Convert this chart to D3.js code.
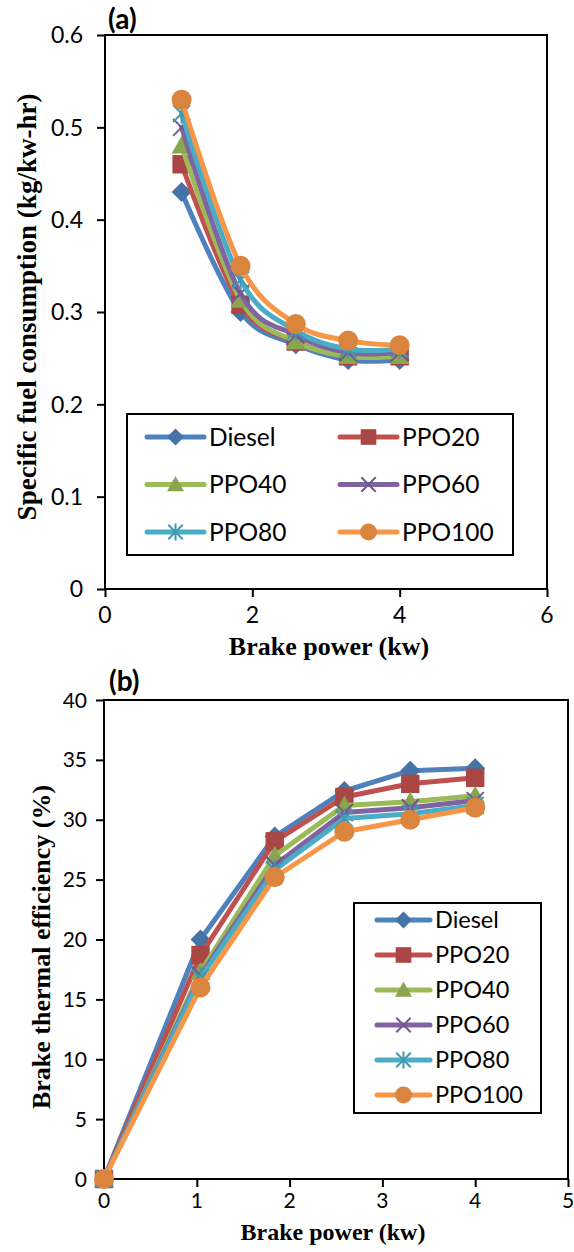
<!DOCTYPE html>
<html>
<head>
<meta charset="utf-8">
<script src="https://cdn.jsdelivr.net/npm/d3@7"></script>
<style>
  html, body { margin: 0; padding: 0; background: #fff; }
  svg { display: block; }
  .tick-label { font-family: Lato, "Open Sans", sans-serif; fill: #000; }
  .axis-title { font-family: "Liberation Serif", "Times New Roman", serif; font-weight: bold; fill: #000; }
  .legend-text { font-family: Lato, "Open Sans", sans-serif; fill: #000; }
  .panel-tag { font-family: Lato, "Open Sans", sans-serif; font-weight: bold; fill: #000; }
</style>
</head>
<body>
<svg id="chart" width="574" height="1252"></svg>
<script>
// Fuels tested
const fuels = ["Diesel", "PPO20", "PPO40", "PPO60", "PPO80", "PPO100"];

// Brake power (kW) at each load step
const brakePower = [1.04, 1.84, 2.59, 3.3, 4.0];
const brakePowerB = [0, 1.04, 1.84, 2.59, 3.3, 4.0];

// (a) Specific fuel consumption (kg/kW-hr)
const sfcDiesel = [0.43, 0.30, 0.265, 0.248, 0.248];
const sfcPPO20  = [0.46, 0.308, 0.268, 0.252, 0.252];
const sfcPPO40  = [0.48, 0.313, 0.268, 0.252, 0.252];
const sfcPPO60  = [0.50, 0.32, 0.275, 0.256, 0.256];
const sfcPPO80  = [0.515, 0.335, 0.28, 0.26, 0.26];
const sfcPPO100 = [0.53, 0.35, 0.287, 0.269, 0.264];

// (b) Brake thermal efficiency (%)
const bteDiesel = [0, 20.0, 28.6, 32.4, 34.1, 34.3];
const btePPO20  = [0, 18.7, 28.2, 31.9, 33.0, 33.5];
const btePPO40  = [0, 17.3, 27.0, 31.2, 31.5, 32.0];
const btePPO60  = [0, 17.0, 26.2, 30.6, 31.0, 31.6];
const btePPO80  = [0, 16.8, 25.8, 30.1, 30.5, 31.2];
const btePPO100 = [0, 16.0, 25.2, 29.0, 30.0, 31.0];

// Axis ticks
const ticksAX = [0, 2, 4, 6];
const ticksAY = [0, 0.1, 0.2, 0.3, 0.4, 0.5, 0.6];
const ticksBX = [0, 1, 2, 3, 4, 5];
const ticksBY = [0, 5, 10, 15, 20, 25, 30, 35, 40];

// Series styling
const lineColors   = ["#4F81BD", "#C0504D", "#9BBB59", "#8064A2", "#4BACC6", "#F79646"];
const markerColors = ["#4572A7", "#AA4643", "#89A54E", "#71588F", "#4198AF", "#DB843D"];
const markerShapes = ["diamond", "square", "triangle", "x", "star", "circle"];

const sfcSeries = [sfcDiesel, sfcPPO20, sfcPPO40, sfcPPO60, sfcPPO80, sfcPPO100];
const bteSeries = [bteDiesel, btePPO20, btePPO40, btePPO60, btePPO80, btePPO100];

const svg = d3.select("#chart");

// Draw a marker of the given shape centred at (0,0), full width s
function drawMarker(g, shape, s, color) {
  const h = s / 2;
  if (shape === "diamond") {
    g.append("path").attr("d", `M0,${-h}L${h},0L0,${h}L${-h},0Z`).attr("fill", color);
  } else if (shape === "square") {
    const q = h * 0.92;
    g.append("rect").attr("x", -q).attr("y", -q).attr("width", 2 * q).attr("height", 2 * q).attr("fill", color);
  } else if (shape === "triangle") {
    g.append("path").attr("d", `M0,${-h}L${h},${h * 0.78}L${-h},${h * 0.78}Z`).attr("fill", color);
  } else if (shape === "x") {
    const q = h * 0.85;
    g.append("path").attr("d", `M${-q},${-q}L${q},${q}M${-q},${q}L${q},${-q}`)
      .attr("stroke", color).attr("stroke-width", 2).attr("fill", "none");
  } else if (shape === "star") {
    const q = h * 0.85;
    g.append("path").attr("d", `M${-q},${-q}L${q},${q}M${-q},${q}L${q},${-q}M0,${-h}L0,${h}`)
      .attr("stroke", color).attr("stroke-width", 2).attr("fill", "none");
  } else {
    g.append("circle").attr("r", h).attr("fill", color);
  }
}

function drawPanel(cfg) {
  const x = d3.scaleLinear().domain(cfg.xDomain).range([cfg.left, cfg.right]);
  const y = d3.scaleLinear().domain(cfg.yDomain).range([cfg.bottom, cfg.top]);
  const g = svg.append("g");

  // Axes with outward ticks
  const xAxis = d3.axisBottom(x).tickValues(cfg.xTicks).tickSize(8).tickFormat("");
  const yAxis = d3.axisLeft(y).tickValues(cfg.yTicks).tickSize(8).tickFormat("");
  g.append("g").attr("transform", `translate(0,${cfg.bottom})`).call(xAxis)
    .call(a => a.select(".domain").remove())
    .call(a => a.selectAll("line").attr("stroke", "#000").attr("stroke-width", 2));
  g.append("g").attr("transform", `translate(${cfg.left},0)`).call(yAxis)
    .call(a => a.select(".domain").remove())
    .call(a => a.selectAll("line").attr("stroke", "#000").attr("stroke-width", 2));

  // Plot frame
  g.append("rect")
    .attr("x", cfg.left).attr("y", cfg.top)
    .attr("width", cfg.right - cfg.left).attr("height", cfg.bottom - cfg.top)
    .attr("fill", "none").attr("stroke", "#000").attr("stroke-width", 2);

  // Tick labels
  g.selectAll(".xl").data(cfg.xTicks).enter().append("text")
    .attr("class", "tick-label")
    .attr("x", d => x(d)).attr("y", cfg.bottom + cfg.xLabelDy)
    .attr("text-anchor", "middle").attr("font-size", cfg.tickFont)
    .text(d => d);
  g.selectAll(".yl").data(cfg.yTicks).enter().append("text")
    .attr("class", "tick-label")
    .attr("x", cfg.yLabelX).attr("y", d => y(d))
    .attr("dy", "0.36em")
    .attr("text-anchor", "end").attr("font-size", cfg.tickFont)
    .text(d => cfg.yFormat(d));

  // Axis titles
  g.append("text").attr("class", "axis-title")
    .attr("x", cfg.xTitleX).attr("y", cfg.xTitleY)
    .attr("text-anchor", "middle").attr("font-size", cfg.xTitleFont)
    .text(cfg.xTitle);
  g.append("text").attr("class", "axis-title")
    .attr("transform", `translate(${cfg.yTitleX},${cfg.yTitleY}) rotate(-90)`)
    .attr("text-anchor", "middle").attr("font-size", cfg.yTitleFont)
    .text(cfg.yTitle);

  // Panel tag
  g.append("text").attr("class", "panel-tag")
    .attr("x", cfg.tagX).attr("y", cfg.tagY).attr("font-size", 28)
    .text(cfg.tag);

  // Series lines then markers
  const line = d3.line().x(d => x(d[0])).y(d => y(d[1])).curve(cfg.curve);
  cfg.series.forEach((vals, i) => {
    const pts = cfg.xs.map((xv, j) => [xv, vals[j]]);
    g.append("path").datum(pts).attr("d", line)
      .attr("fill", "none").attr("stroke", lineColors[i])
      .attr("stroke-width", 5).attr("stroke-linejoin", "round").attr("stroke-linecap", "round");
    pts.forEach(p => {
      const m = g.append("g").attr("transform", `translate(${x(p[0])},${y(p[1])})`);
      drawMarker(m, markerShapes[i], 20, markerColors[i]);
    });
  });

  // Legend
  const L = cfg.legend;
  g.append("rect").attr("x", L.x0).attr("y", L.y0)
    .attr("width", L.x1 - L.x0).attr("height", L.y1 - L.y0)
    .attr("fill", "#fff").attr("stroke", "#000").attr("stroke-width", 2);
  fuels.forEach((name, i) => {
    const col = i % L.cols, row = Math.floor(i / L.cols);
    const lx = L.lineX + col * L.colStep;
    const ly = L.rowY + row * L.rowStep;
    const item = g.append("g").attr("transform", `translate(${lx},${ly})`);
    item.append("line").attr("x1", 0).attr("x2", L.lineLen).attr("y1", 0).attr("y2", 0)
      .attr("stroke", lineColors[i]).attr("stroke-width", 5).attr("stroke-linecap", "round");
    const m = item.append("g").attr("transform", `translate(${L.lineLen / 2},0)`);
    drawMarker(m, markerShapes[i], 17, markerColors[i]);
    item.append("text").attr("class", "legend-text")
      .attr("x", L.lineLen + 5).attr("y", 0).attr("dy", "0.36em")
      .attr("font-size", L.font).text(name);
  });
}

drawPanel({
  left: 105, right: 547, top: 35, bottom: 589,
  xDomain: [0, 6], yDomain: [0, 0.6],
  xTicks: ticksAX, yTicks: ticksAY,
  yFormat: d => d3.format("")(d === 0 ? 0 : +d.toFixed(1)),
  tickFont: 23, xLabelDy: 34, yLabelX: 83,
  xTitle: "Brake power (kw)", xTitleX: 329, xTitleY: 655, xTitleFont: 26,
  yTitle: "Specific fuel consumption (kg/kw-hr)", yTitleX: 36, yTitleY: 307, yTitleFont: 27,
  tag: "(a)", tagX: 108, tagY: 29,
  xs: brakePower, series: sfcSeries,
  curve: d3.curveCatmullRom.alpha(0),
  legend: { x0: 127, y0: 414, x1: 513, y1: 555, cols: 2, lineX: 147, colStep: 193,
            rowY: 437, rowStep: 47.5, lineLen: 57, font: 24.5 }
});

drawPanel({
  left: 104, right: 568, top: 700, bottom: 1179,
  xDomain: [0, 5], yDomain: [0, 40],
  xTicks: ticksBX, yTicks: ticksBY,
  yFormat: d => d,
  tickFont: 21, xLabelDy: 29, yLabelX: 87,
  xTitle: "Brake power (kw)", xTitleX: 333, xTitleY: 1240, xTitleFont: 24,
  yTitle: "Brake thermal efficiency (%)", yTitleX: 50, yTitleY: 947, yTitleFont: 26,
  tag: "(b)", tagX: 109, tagY: 691,
  xs: brakePowerB, series: bteSeries,
  curve: d3.curveLinear,
  legend: { x0: 354, y0: 903, x1: 541, y1: 1113, cols: 1, lineX: 377, colStep: 0,
            rowY: 920, rowStep: 35, lineLen: 53, font: 23.5 }
});
</script>
</body>
</html>
